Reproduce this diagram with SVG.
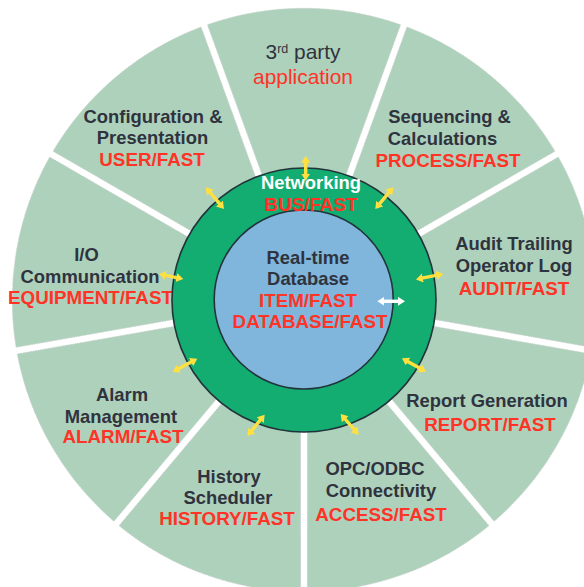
<svg xmlns="http://www.w3.org/2000/svg" xmlns:xlink="http://www.w3.org/1999/xlink" width="584" height="587" viewBox="0 0 584 587">
<style>
text{font-family:"Liberation Sans",Arial,sans-serif;font-weight:700;font-size:18.4px;text-anchor:middle;fill:#2f333e}
.r{fill:#ff3326;font-size:18.8px}
.w{fill:#fff}
.n{font-weight:400;font-size:20.9px}
.wedge{fill:#aed1bc;stroke:#c4d0c9;stroke-width:.8;stroke-dasharray:1.5 1}
.ring{stroke:#22333a;stroke-width:1.6}
.y{stroke:#ffe040;stroke-width:3.4;fill:none;marker-start:url(#ay);marker-end:url(#ay)}
.wa{stroke:#fff;stroke-width:3.4;fill:none;marker-start:url(#aw);marker-end:url(#aw)}
</style>
<defs>
<path id="wedge" class="wedge" d="M304 289.8L207.4 24.7A292.5 292.5 0 0 1 400.6 24.7Z"/>
<marker id="ay" markerUnits="userSpaceOnUse" markerWidth="10" markerHeight="10" refX="1" refY="4.5" orient="auto-start-reverse"><path d="M0 0L7 4.5L0 9Z" fill="#ffe040"/></marker>
<marker id="aw" markerUnits="userSpaceOnUse" markerWidth="10" markerHeight="10" refX="1" refY="4.5" orient="auto-start-reverse"><path d="M0 0L7 4.5L0 9Z" fill="#fff"/></marker>
</defs>
<rect width="584" height="587" fill="#fff"/>
<g id="node-3rd-party"><use xlink:href="#wedge" href="#wedge"/>
<text class="n" x="303" y="59">3<tspan font-size="12.5" dy="-6">rd</tspan><tspan dy="6"> party</tspan></text>
<text class="n r" x="303" y="84" style="font-size:20.9px">application</text></g>
<g id="node-sequencing"><use xlink:href="#wedge" href="#wedge" transform="rotate(40 304 300)"/>
<text x="449.5" y="123">Sequencing &amp;</text><text x="442.5" y="145">Calculations</text><text class="r" x="448" y="167">PROCESS/FAST</text></g>
<g id="node-audit"><use xlink:href="#wedge" href="#wedge" transform="rotate(80 304 300)"/>
<text x="514" y="250">Audit Trailing</text><text x="514" y="272">Operator Log</text><text class="r" x="514" y="295">AUDIT/FAST</text></g>
<g id="node-report"><use xlink:href="#wedge" href="#wedge" transform="rotate(120 304 300)"/>
<text x="487" y="407">Report Generation</text><text class="r" x="490" y="431">REPORT/FAST</text></g>
<g id="node-opc"><use xlink:href="#wedge" href="#wedge" transform="rotate(160 304 300)"/>
<text x="375" y="475">OPC/ODBC</text><text x="381" y="497">Connectivity</text><text class="r" x="381" y="521">ACCESS/FAST</text></g>
<g id="node-history"><use xlink:href="#wedge" href="#wedge" transform="rotate(200 304 300)"/>
<text x="229" y="483">History</text><text x="228" y="504">Scheduler</text><text class="r" x="227" y="525">HISTORY/FAST</text></g>
<g id="node-alarm"><use xlink:href="#wedge" href="#wedge" transform="rotate(240 304 300)"/>
<text x="122" y="401">Alarm</text><text x="121" y="423">Management</text><text class="r" x="123" y="443">ALARM/FAST</text></g>
<g id="node-io"><use xlink:href="#wedge" href="#wedge" transform="rotate(280 304 300)"/>
<text x="86.5" y="261">I/O</text><text x="90" y="283">Communication</text><text class="r" x="90.5" y="304">EQUIPMENT/FAST</text></g>
<g id="node-config"><use xlink:href="#wedge" href="#wedge" transform="rotate(320 304 300)"/>
<text x="153" y="123">Configuration &amp;</text><text x="152.5" y="144">Presentation</text><text class="r" x="152" y="166">USER/FAST</text></g>
<g id="node-networking"><circle class="ring" cx="304" cy="300" r="132" fill="#13ad72"/></g>
<g id="node-database"><circle class="ring" cx="303.7" cy="299.5" r="89.5" fill="#80b5dc"/></g>
<g id="connectors">
<path class="y" d="M305.7 161.7L305.7 174.7"/>
<path class="y" d="M209.6 191.9L220.1 204.4"/>
<path class="y" d="M389.5 191.9L379.1 204.4"/>
<path class="y" d="M437.4 275.1L421.9 278.2"/>
<path class="y" d="M164.9 275.2L177.4 277.8"/>
<path class="y" d="M192 361.6L178 369.1"/>
<path class="y" d="M407.2 361.2L420.8 368.8"/>
<path class="y" d="M260.9 419.3L251.1 431.4"/>
<path class="y" d="M344.6 418.5L354.8 430.2"/>
<path class="wa" d="M383.3 301.3L399 301.3"/>
</g>
<g id="labels-networking"><text class="w" x="311" y="189">Networking</text><text class="r" x="311" y="211">BUS/FAST</text></g>
<g id="labels-database"><text x="308" y="264">Real-time</text><text x="308" y="285">Database</text><text class="r" x="308" y="307">ITEM/FAST</text><text class="r" x="310" y="328">DATABASE/FAST</text></g>
</svg>
